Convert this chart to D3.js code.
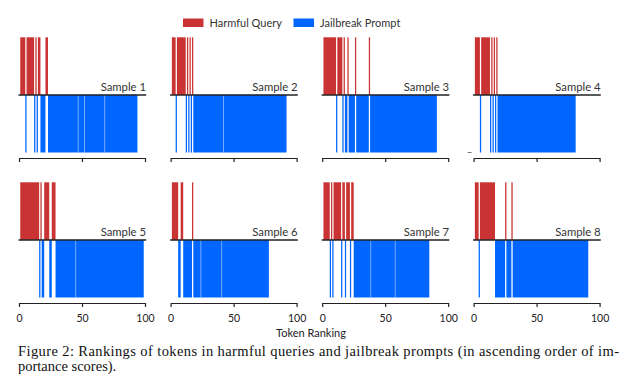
<!DOCTYPE html>
<html><head><meta charset="utf-8">
<script src="https://cdn.jsdelivr.net/npm/d3@7"></script>
<style>body{margin:0;background:#fff;} svg{display:block}</style>
</head><body><svg id="c" width="631" height="386"></svg>
<script>
// ---- data ----
const samples = ["Sample 1","Sample 2","Sample 3","Sample 4","Sample 5","Sample 6","Sample 7","Sample 8"];
// runs of consecutive token ranks [first, last]
const harmfulRuns = [
  [[1,4],[6,11],[13,13],[15,16],[21,22]],
  [[1,3],[5,11],[13,13],[15,15],[17,17]],
  [[1,10],[12,15],[17,17],[20,20],[26,26],[37,37]],
  [[1,4],[6,12],[14,14],[16,16],[18,18]],
  [[1,15],[17,17],[20,23],[26,28]],
  [[1,5],[8,9],[17,17]],
  [[1,5],[7,7],[9,14],[16,17],[19,21],[23,24]],
  [[1,3],[5,16],[25,25],[30,30]]
];
const jailbreakRuns = [
  [[5,5],[12,12],[14,14],[17,20],[23,93]],
  [[4,4],[12,12],[14,14],[16,16],[18,91]],
  [[11,11],[16,16],[18,19],[21,25],[27,36],[38,90]],
  [[5,5],[13,13],[15,15],[17,17],[19,80]],
  [[16,16],[18,19],[24,25],[29,98]],
  [[6,7],[10,16],[18,77]],
  [[6,6],[8,8],[15,15],[18,18],[22,22],[25,84]],
  [[4,4],[17,24],[26,29],[31,90]]
];
// faint light seams visible inside the blue blocks of the reference
const seams = [[47,52,68],[42],[],[],[45],[24,40.5],[38.5,58],[]];
const xTicks = [0,50,100];
const legendLabels = ["Harmful Query","Jailbreak Prompt"];
const colors = ["#c93333","#0066ff"];

// ---- layout ----
const svg = d3.select("#c");
const font = "Lato, 'Open Sans', sans-serif";
const colX = [19, 170.6, 322.2, 473.6];
const panelW = 126;
const rowTop = [37.3, 182.3];
const halfH = 57.6;

samples.forEach((name, i) => {
  const col = i % 4, row = Math.floor(i / 4);
  const x = d3.scaleLinear().domain([0,100]).range([colX[col], colX[col] + panelW]);
  const y = d3.scaleLinear().domain([-1,1]).range([rowTop[row] + 2*halfH, rowTop[row]]);
  const g = svg.append("g");

  g.selectAll("rect.h").data(harmfulRuns[i]).join("rect")
    .attr("x", d => x(d[0])).attr("width", d => x(d[1]+1) - x(d[0]))
    .attr("y", y(1)).attr("height", y(0) - y(1)).attr("fill", colors[0]);
  g.selectAll("rect.j").data(jailbreakRuns[i]).join("rect")
    .attr("x", d => x(d[0])).attr("width", d => x(d[1]+1) - x(d[0]))
    .attr("y", y(0)).attr("height", y(-1) - y(0)).attr("fill", colors[1]);
  g.selectAll("line.s").data(seams[i]).join("line")
    .attr("x1", d => x(d)).attr("x2", d => x(d))
    .attr("y1", y(0)).attr("y2", y(-1))
    .attr("stroke", "#fff").attr("stroke-width", 0.6).attr("stroke-opacity", 0.75);

  // zero baseline
  g.append("line").attr("x1", x(0) - 0.5).attr("x2", x(100) + 1.2)
    .attr("y1", y(0)).attr("y2", y(0)).attr("stroke", "#222").attr("stroke-width", 1.5);

  // sample label
  g.append("text").attr("x", x(100) + 1).attr("y", y(0) - 4)
    .attr("text-anchor", "end").attr("font-family", font).attr("font-size", 11.3)
    .attr("fill", "#333").text(name);

  // x axis
  const ax = d3.axisBottom(x).tickValues(xTicks).tickSize(4).tickSizeOuter(0).tickPadding(8);
  if (row === 0) ax.tickFormat("");
  const axg = g.append("g").attr("transform", `translate(0,${y(-1) + 5.5})`).call(ax);
  axg.select(".domain").attr("stroke", "#222").attr("stroke-width", 1.2);
  axg.selectAll(".tick line").attr("stroke", "#222").attr("stroke-width", 1.2);
  axg.selectAll(".tick text").attr("font-family", font).attr("font-size", 10.5).attr("fill", "#222");

  if (i === 3) {
    g.append("line").attr("x1", x(0) - 6).attr("x2", x(0) - 2)
      .attr("y1", y(-1)).attr("y2", y(-1)).attr("stroke", "#555").attr("stroke-width", 0.8);
  }
});

// legend
const legX = [183, 293.5];
legendLabels.forEach((lab, k) => {
  svg.append("rect").attr("x", legX[k]).attr("y", 18.5).attr("width", 20.5).attr("height", 8.5).attr("fill", colors[k]);
  svg.append("text").attr("x", legX[k] + 26.5).attr("y", 27).attr("font-family", font)
    .attr("font-size", 11).attr("fill", "#333").text(lab);
});

// axis title
svg.append("text").attr("x", 311).attr("y", 337).attr("text-anchor", "middle")
  .attr("font-family", font).attr("font-size", 11).attr("fill", "#222").text("Token Ranking");

// caption
const serif = "'Liberation Serif', 'Times New Roman', serif";
svg.append("text").attr("x", 18).attr("y", 355.5).attr("font-family", serif).attr("font-size", 14.5)
  .attr("fill", "#111").attr("textLength", 601).attr("lengthAdjust", "spacing")
  .text("Figure 2: Rankings of tokens in harmful queries and jailbreak prompts (in ascending order of im-");
svg.append("text").attr("x", 18).attr("y", 371).attr("font-family", serif).attr("font-size", 14.5)
  .attr("fill", "#111").text("portance scores).");
</script></body></html>
